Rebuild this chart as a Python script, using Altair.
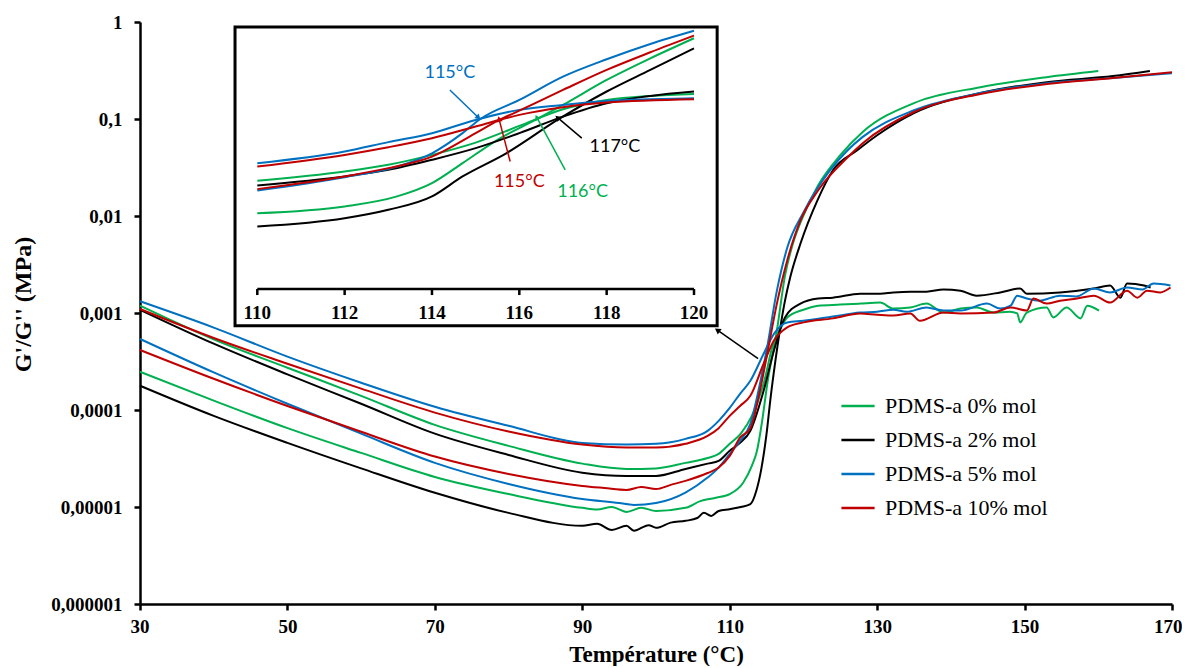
import math
import altair as alt
import pandas as pd

SAMPLES = ["PDMS-a 0% mol", "PDMS-a 2% mol", "PDMS-a 5% mol", "PDMS-a 10% mol"]
COLORS = ["#00B050", "#000000", "#0070C0", "#C00000"]

# ---------------- main chart data (Temperature in °C, modulus in MPa) ----------------
green_Gpp_T = [30, 40, 50, 60, 70, 80, 90, 96, 100, 104, 107, 108.5, 110, 111.5, 113, 114.6, 115.9, 117, 117.8, 120,
               122, 125, 127.7, 130.4, 132.2, 134.5, 136.7, 139, 141.3, 143.5, 145.8, 148, 149, 149.4, 150.3,
               153, 153.9, 155.7, 157.6, 158.5, 160.1]
green_Gpp_V = [1.19e-3, 5.35e-4, 2.73e-4, 1.40e-4, 7.03e-5, 4.27e-5, 2.8e-5, 2.47e-5, 2.5e-5, 2.85e-5,
               3.2e-5, 3.53e-5, 4.48e-5, 5.7e-5, 8.7e-5, 1.87e-4, 4.8e-4, 7.2e-4, 9.0e-4, 1.08e-3,
               1.19e-3, 1.22e-3, 1.25e-3, 1.28e-3, 1.11e-3, 1.14e-3, 1.25e-3, 1.01e-3, 1.11e-3, 1.14e-3,
               1.01e-3, 1.03e-3, 9.9e-4, 8.0e-4, 1.01e-3, 1.14e-3, 9.0e-4, 1.14e-3, 8.8e-4, 1.19e-3, 1.06e-3]
green_Gp_T = [30, 40, 50, 60, 70, 80, 90, 92, 94, 96, 98, 100, 104, 106, 108, 110, 111.8, 113, 113.7, 114.4,
              115.1, 116.4, 117.5, 118.5, 120, 122, 125, 128, 135, 144, 153, 160]
green_Gp_V = [2.48e-4, 1.25e-4, 6.5e-5, 3.61e-5, 2.04e-5, 1.36e-5, 9.8e-6, 9.4e-6, 1.0e-5, 8.9e-6,
              9.8e-6, 9.1e-6, 9.8e-6, 1.15e-5, 1.24e-5, 1.36e-5, 1.77e-5, 2.65e-5, 3.8e-5, 7.7e-5,
              1.87e-4, 6.6e-4, 2.43e-3, 4.97e-3, 1.01e-2, 2.07e-2, 4.23e-2, 7.3e-2, 0.146, 0.213, 0.27, 0.312]

black_Gpp_T = [30, 40, 50, 60, 70, 80, 90, 96, 100, 104, 107, 108.5, 110, 111.4, 112.8, 114.6, 116, 117.5, 119.6, 122,
               124, 127.7, 130.4, 132.2, 134.5, 136.7, 139, 141.3, 143.5, 146.7, 149.4, 150.3, 154.8, 159.4, 161.6,
               163, 163.9, 166.2, 167.1]
black_Gpp_V = [1.08e-3, 4.83e-4, 2.33e-4, 1.16e-4, 5.7e-5, 3.44e-5, 2.26e-5, 2.09e-5, 2.09e-5, 2.47e-5,
               2.8e-5, 2.99e-5, 3.8e-5, 4.58e-5, 6.1e-5, 1.58e-4, 4.1e-4, 9.0e-4, 1.25e-3, 1.41e-3,
               1.44e-3, 1.58e-3, 1.58e-3, 1.63e-3, 1.66e-3, 1.66e-3, 1.75e-3, 1.70e-3, 1.51e-3, 1.63e-3,
               1.79e-3, 1.58e-3, 1.63e-3, 1.79e-3, 1.92e-3, 1.44e-3, 2.01e-3, 1.92e-3, 1.83e-3]
black_Gp_T = [30, 40, 50, 60, 70, 80, 90, 92, 94, 96, 97, 99, 100, 102, 104, 105.6, 106.5, 107.5, 108.5, 110,
              111.5, 112.8, 113.6, 114.3, 115, 115.5, 116.2, 116.8, 117.5, 118.2, 119.6, 121.9, 124, 127.3, 130,
              135, 144, 153, 162, 167]
black_Gp_V = [1.78e-4, 8.7e-5, 4.58e-5, 2.5e-5, 1.40e-5, 8.7e-6, 6.4e-6, 6.7e-6, 5.8e-6, 6.4e-6,
              5.7e-6, 6.5e-6, 6.1e-6, 6.9e-6, 7.2e-6, 7.7e-6, 8.7e-6, 8.1e-6, 9.1e-6, 9.5e-6,
              1.0e-5, 1.07e-5, 1.46e-5, 2.5e-5, 5.7e-5, 1.25e-4, 3.22e-4, 6.6e-4, 1.34e-3, 2.32e-3,
              5.2e-3, 1.45e-2, 2.96e-2, 4.76e-2, 6.8e-2, 0.115, 0.185, 0.24, 0.277, 0.312]

blue_Gpp_T = [30, 40, 50, 60, 70, 80, 90, 96, 100, 104, 107, 108.5, 110, 111.4, 112.8, 114.6, 116, 117.8, 120, 124,
              127.7, 130, 132.2, 134, 136.7, 139, 141.3, 144.9, 146.7, 148.1, 149, 150.3, 152, 154.8, 157,
              159.4, 161.6, 163.9, 166, 167.5, 169.8]
blue_Gpp_V = [1.32e-3, 7.07e-4, 3.55e-4, 1.91e-4, 1.08e-4, 6.87e-5, 4.58e-5, 4.4e-5, 4.48e-5, 5.04e-5,
              6.1e-5, 7.73e-5, 1.05e-4, 1.47e-4, 2.0e-4, 3.8e-4, 6.1e-4, 8.0e-4, 8.3e-4, 9.2e-4,
              1.01e-3, 1.03e-3, 1.08e-3, 1.03e-3, 1.14e-3, 1.06e-3, 1.06e-3, 1.25e-3, 1.11e-3, 1.19e-3,
              1.51e-3, 1.41e-3, 1.34e-3, 1.51e-3, 1.48e-3, 1.79e-3, 1.63e-3, 1.83e-3, 1.75e-3, 2.01e-3, 1.92e-3]
blue_Gp_T = [30, 40, 50, 60, 70, 80, 90, 95, 97, 100, 104, 107, 108.5, 110, 111.4, 112.8, 114.1, 115, 116.4, 117.8,
             120, 123.6, 126, 128, 135, 144, 153, 162, 170]
blue_Gp_V = [5.4e-4, 2.44e-4, 1.16e-4, 5.7e-5, 2.85e-5, 1.73e-5, 1.21e-5, 1.1e-5, 1.05e-5, 1.1e-5,
             1.41e-5, 2.01e-5, 2.55e-5, 3.53e-5, 4.8e-5, 7.2e-5, 1.87e-4, 4.1e-4, 1.7e-3, 4.7e-3,
             1.09e-2, 2.96e-2, 4.76e-2, 6.5e-2, 0.123, 0.185, 0.234, 0.264, 0.297]

red_Gpp_T = [30, 40, 50, 60, 70, 80, 90, 96, 100, 104, 107, 108.5, 110, 111.4, 112.8, 114.6, 116, 117.8, 120, 124,
             127.7, 130, 132.2, 134.5, 135.8, 139, 141.3, 145.8, 148.1, 150.3, 151.2, 153, 154.8, 157.1, 159.4,
             161.6, 163.9, 165.3, 166.6, 168.4, 169.8]
red_Gpp_V = [1.10e-3, 5.53e-4, 3.0e-4, 1.66e-4, 9.4e-5, 6.0e-5, 4.4e-5, 4.1e-5, 4.1e-5, 4.48e-5,
             5.4e-5, 6.5e-5, 8.7e-5, 1.1e-4, 1.40e-4, 3.0e-4, 5.2e-4, 7.1e-4, 8.0e-4, 8.8e-4,
             9.9e-4, 9.6e-4, 9.4e-4, 9.9e-4, 8.3e-4, 1.01e-3, 9.9e-4, 1.01e-3, 1.14e-3, 1.06e-3,
             1.41e-3, 1.25e-3, 1.34e-3, 1.41e-3, 1.51e-3, 1.28e-3, 1.70e-3, 1.44e-3, 1.70e-3, 1.63e-3, 1.83e-3]
red_Gp_T = [30, 40, 50, 60, 70, 80, 90, 93, 96, 98, 100, 102, 104, 107, 108.5, 110, 111.4, 112.8, 114.1, 115,
            116.4, 117.8, 119.6, 122, 126, 128, 135, 144, 153, 162, 170]
red_Gp_V = [4.16e-4, 2.1e-4, 1.1e-4, 5.96e-5, 3.31e-5, 2.19e-5, 1.65e-5, 1.57e-5, 1.5e-5, 1.61e-5,
            1.53e-5, 1.69e-5, 1.86e-5, 2.24e-5, 2.55e-5, 3.36e-5, 5.2e-5, 6.5e-5, 1.58e-4, 3.5e-4,
            1.25e-3, 3.48e-3, 9.0e-3, 1.84e-2, 4.03e-2, 5.6e-2, 0.118, 0.181, 0.229, 0.264, 0.304]

# ---------------- inset data (110-120 °C zoom, own log scale) ----------------
in_green_Gpp_T = [110, 112, 113, 114, 115, 116, 117, 118, 119, 120]
in_green_Gpp_V = [2.21e-5, 3.2e-5, 4.18e-5, 6.2e-5, 1.01e-4, 1.96e-4, 3.8e-4, 5.5e-4, 6.46e-4, 7.0e-4]
in_green_Gp_T = [110, 112, 113.2, 114, 114.7, 115.5, 116.4, 117, 118, 119, 120]
in_green_Gp_V = [6.1e-6, 7.98e-6, 1.19e-5, 2.02e-5, 4.46e-5, 1.13e-4, 2.56e-4, 4.52e-4, 1.22e-3, 2.88e-3, 6.4e-3]
in_black_Gpp_T = [110, 112, 113, 114, 115, 116, 117, 118, 119, 120]
in_black_Gpp_V = [1.84e-5, 2.63e-5, 3.42e-5, 5.1e-5, 8.1e-5, 1.47e-4, 2.84e-4, 4.83e-4, 6.46e-4, 7.7e-4]
in_black_Gp_T = [110, 112, 113, 114, 114.7, 115.7, 116.9, 118, 119, 120]
in_black_Gp_V = [3.6e-6, 5.0e-6, 7.0e-6, 1.19e-5, 2.63e-5, 6.6e-5, 2.56e-4, 7.7e-4, 1.82e-3, 4.29e-3]
in_blue_Gpp_T = [110, 112, 113, 114, 115, 116, 117, 118, 119, 120]
in_blue_Gpp_V = [4.46e-5, 7.1e-5, 1.03e-4, 1.47e-4, 2.49e-4, 3.71e-4, 4.52e-4, 5.3e-4, 5.66e-4, 5.9e-4]
in_blue_Gp_T = [110, 112, 113.2, 114, 114.7, 115.1, 116, 117, 118, 119, 120]
in_blue_Gp_V = [1.51e-5, 2.56e-5, 3.9e-5, 6.6e-5, 1.47e-4, 2.56e-4, 5.5e-4, 1.39e-3, 2.77e-3, 5.09e-3, 8.6e-3]
in_red_Gpp_T = [110, 112, 113, 114, 115, 116, 117, 118, 120]
in_red_Gpp_V = [3.9e-5, 6.2e-5, 8.4e-5, 1.2e-4, 1.91e-4, 3.04e-4, 4.12e-4, 4.95e-4, 5.66e-4]
in_red_Gp_T = [110, 112, 113, 114, 115, 115.5, 116, 117, 118, 119, 120]
in_red_Gp_V = [1.59e-5, 2.63e-5, 3.66e-5, 5.8e-5, 1.47e-4, 2.39e-4, 3.6e-4, 8.2e-4, 1.82e-3, 3.66e-3, 7.1e-3]

inset_ticks = [110, 112, 114, 116, 118, 120]

# inset frame and axis levels (inset units)
inset_box_T = [109.49, 120.53]
inset_box_V = [7.0e-8, 1.0e-2]
inset_axis_V = 3.0e-7        # axis line
inset_tick_end_V = 2.36e-7   # tick mark end
inset_label_V = 1.16e-7      # tick label centre

# inset annotations
ann_label = ["115°C", "115°C", "116°C", "117°C"]
ann_color = ["#0070C0", "#C00000", "#00B050", "#000000"]
ann_text_T = [114.41, 116.0, 117.45, 118.19]
ann_text_V = [1.61e-3, 2.15e-5, 1.44e-5, 8.6e-5]
ann_tail_T = [114.41, 115.79, 117.05, 117.43]
ann_tail_V = [8.2e-4, 4.77e-5, 3.42e-5, 1.21e-4]
ann_head_T = [115.05, 115.54, 116.41, 116.89]
ann_head_V = [2.8e-4, 2.49e-4, 2.67e-4, 2.67e-4]
ann_angle = [134, 346, 332, 310]

# arrow from the main curves to the inset (main units)
main_arrow_T = [113.85, 108.43]
main_arrow_V = [3.38e-4, 6.58e-4]
main_arrow_angle = 305

# placement of the inset inside the main axes: inset 110..120 °C -> main 45.913..105.155
INSET_T0_MAIN = 45.913
INSET_DEG_SCALE = 5.9242
INSET_LOG_A = 1.14289
INSET_LOG_B = 0.59722


def in_T(t):
    return INSET_T0_MAIN + (t - 110) * INSET_DEG_SCALE


def in_V(v):
    return 10 ** (INSET_LOG_A + INSET_LOG_B * math.log10(v))


def build(series, inset=False):
    rows = []
    for sample, mod, T, V in series:
        assert len(T) == len(V), (sample, mod, len(T), len(V))
        for t, v in zip(T, V):
            rows.append({"T": in_T(t) if inset else t, "value": in_V(v) if inset else v,
                         "sample": sample, "modulus": mod})
    return pd.DataFrame(rows)


main_df = build([
    (SAMPLES[0], "G''", green_Gpp_T, green_Gpp_V), (SAMPLES[0], "G'", green_Gp_T, green_Gp_V),
    (SAMPLES[1], "G''", black_Gpp_T, black_Gpp_V), (SAMPLES[1], "G'", black_Gp_T, black_Gp_V),
    (SAMPLES[2], "G''", blue_Gpp_T, blue_Gpp_V), (SAMPLES[2], "G'", blue_Gp_T, blue_Gp_V),
    (SAMPLES[3], "G''", red_Gpp_T, red_Gpp_V), (SAMPLES[3], "G'", red_Gp_T, red_Gp_V),
])
inset_df = build([
    (SAMPLES[0], "G''", in_green_Gpp_T, in_green_Gpp_V), (SAMPLES[0], "G'", in_green_Gp_T, in_green_Gp_V),
    (SAMPLES[1], "G''", in_black_Gpp_T, in_black_Gpp_V), (SAMPLES[1], "G'", in_black_Gp_T, in_black_Gp_V),
    (SAMPLES[2], "G''", in_blue_Gpp_T, in_blue_Gpp_V), (SAMPLES[2], "G'", in_blue_Gp_T, in_blue_Gp_V),
    (SAMPLES[3], "G''", in_red_Gpp_T, in_red_Gpp_V), (SAMPLES[3], "G'", in_red_Gp_T, in_red_Gp_V),
], inset=True)

box_df = pd.DataFrame({"x0": [in_T(inset_box_T[0])], "x1": [in_T(inset_box_T[1])],
                       "y0": [in_V(inset_box_V[0])], "y1": [in_V(inset_box_V[1])]})
in_axis_df = pd.DataFrame({"x0": [in_T(inset_ticks[0])], "x1": [in_T(inset_ticks[-1])],
                           "y": [in_V(inset_axis_V)]})
in_ticks_df = pd.DataFrame({"x": [in_T(t) for t in inset_ticks],
                            "y0": [in_V(inset_axis_V)] * len(inset_ticks),
                            "y1": [in_V(inset_tick_end_V)] * len(inset_ticks),
                            "ly": [in_V(inset_label_V)] * len(inset_ticks),
                            "label": [str(t) for t in inset_ticks]})
ann_df = pd.DataFrame({"label": ann_label, "col": ann_color,
                       "tx": [in_T(t) for t in ann_text_T], "ty": [in_V(v) for v in ann_text_V],
                       "x0": [in_T(t) for t in ann_tail_T], "y0": [in_V(v) for v in ann_tail_V],
                       "x1": [in_T(t) for t in ann_head_T], "y1": [in_V(v) for v in ann_head_V],
                       "ang": ann_angle})
marrow_df = pd.DataFrame({"x0": [main_arrow_T[0]], "y0": [main_arrow_V[0]],
                          "x1": [main_arrow_T[1]], "y1": [main_arrow_V[1]], "ang": [main_arrow_angle]})

SERIF = "Liberation Serif"
W, H = 1032, 582

color_enc = alt.Color("sample:N", scale=alt.Scale(domain=SAMPLES, range=COLORS),
                      legend=alt.Legend(orient="none", legendX=700, legendY=366, title=None,
                                        symbolType="stroke", symbolSize=1100, symbolStrokeWidth=2.5,
                                        labelFont=SERIF, labelFontSize=22, labelColor="black",
                                        labelLimit=400, labelOffset=9, rowPadding=5, padding=0))

x_main = alt.Scale(domain=[30, 170], nice=False, zero=False)
y_main = alt.Scale(type="log", domain=[1e-6, 1], nice=False)

axis_common = dict(labelFont=SERIF, labelFontWeight="bold", labelFontSize=19, labelColor="black",
                   titleFont=SERIF, titleFontWeight="bold", titleColor="black",
                   domainColor="black", domainWidth=2.5, tickColor="black", tickWidth=2.5, tickSize=6,
                   grid=False, labelOverlap=False)

# the same axis objects are given to every layer so that they merge cleanly
AX_X = alt.Axis(values=[30, 50, 70, 90, 110, 130, 150, 170], title="Température (°C)",
                labelPadding=7, titleY=50, titleFontSize=23, titleBaseline="middle",
                labelFlush=True, labelFlushOffset=10, **axis_common)
AX_Y = alt.Axis(values=[1e-6, 1e-5, 1e-4, 1e-3, 1e-2, 1e-1, 1],
                labelExpr="replace(format(datum.value, '~f'), '.', ',')",
                title="G'/G'' (MPa)", labelPadding=12, titleX=-117, titleY=282, titleFontSize=24,
                titleBaseline="middle", titleAlign="center", titleAngle=-90, labelFlush=False,
                **axis_common)


def X(field):
    return alt.X(field, type="quantitative", scale=x_main, axis=AX_X)


def Y(field):
    return alt.Y(field, type="quantitative", scale=y_main, axis=AX_Y)


main_lines = alt.Chart(main_df).mark_line(strokeWidth=2, interpolate="monotone").encode(
    x=X("T"), y=Y("value"), color=color_enc, detail="modulus:N")

main_arrow = alt.Chart(marrow_df).mark_rule(color="black", strokeWidth=1.5).encode(
    x=X("x0"), y=Y("y0"), x2="x1:Q", y2="y1:Q")
main_arrow_head = alt.Chart(marrow_df).mark_point(shape="triangle", filled=True, size=45, color="black",
                                                  opacity=1).encode(
    x=X("x1"), y=Y("y1"), angle=alt.Angle("ang:Q", scale=None))

box = alt.Chart(box_df).mark_rect(fill="white", stroke="black", strokeWidth=3).encode(
    x=X("x0"), x2="x1:Q", y=Y("y0"), y2="y1:Q")

in_axis = alt.Chart(in_axis_df).mark_rule(color="black", strokeWidth=2.5).encode(
    x=X("x0"), x2="x1:Q", y=Y("y"))
in_ticks = alt.Chart(in_ticks_df).mark_rule(color="black", strokeWidth=2.5).encode(
    x=X("x"), y=Y("y0"), y2="y1:Q")
in_labels = alt.Chart(in_ticks_df).mark_text(font=SERIF, fontWeight="bold", fontSize=19, color="black",
                                             align="center", baseline="middle").encode(
    x=X("x"), y=Y("ly"), text="label:N")

inset_lines = alt.Chart(inset_df).mark_line(strokeWidth=2, interpolate="monotone").encode(
    x=X("T"), y=Y("value"), color=color_enc, detail="modulus:N")

ann_rules = alt.Chart(ann_df).mark_rule(strokeWidth=1.5).encode(
    x=X("x0"), y=Y("y0"), x2="x1:Q", y2="y1:Q", stroke=alt.Stroke("col:N", scale=None))
ann_heads = alt.Chart(ann_df).mark_point(shape="triangle", filled=True, size=40, opacity=1).encode(
    x=X("x1"), y=Y("y1"), fill=alt.Fill("col:N", scale=None), angle=alt.Angle("ang:Q", scale=None))
ann_text = alt.Chart(ann_df).mark_text(font="Lato", fontSize=18, align="center", baseline="middle").encode(
    x=X("tx"), y=Y("ty"), text="label:N", fill=alt.Fill("col:N", scale=None))

chart = alt.layer(
    main_lines, main_arrow, main_arrow_head, box, in_axis, in_ticks, in_labels,
    inset_lines, ann_rules, ann_heads, ann_text
).properties(
    width=W, height=H,
    padding={"left": 132, "top": 14, "right": 10, "bottom": 62},
    autosize=alt.AutoSizeParams(type="none"),
    background="white",
).configure_view(stroke=None)

chart.save("out.html", embed_options={"renderer": "svg", "actions": False})
